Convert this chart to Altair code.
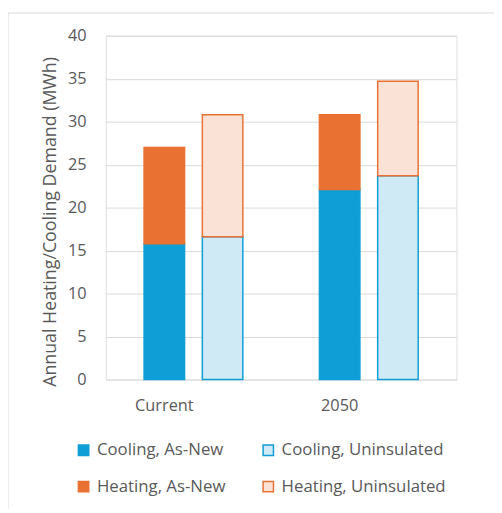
import altair as alt
import pandas as pd

# ---- data ----
scenarios = ["Current", "Current", "2050", "2050"]
insulation = ["As-New", "Uninsulated", "As-New", "Uninsulated"]
cooling = [15.8, 16.6, 22.1, 23.7]
heating = [11.2, 14.2, 8.7, 11.0]
scenario_order = ["Current", "2050"]
insulation_order = ["As-New", "Uninsulated"]
series_names = ["Cooling, As-New", "Heating, As-New",
                "Cooling, Uninsulated", "Heating, Uninsulated"]
y_ticks = [0, 5, 10, 15, 20, 25, 30, 35, 40]
y_title = "Annual Heating/Cooling Demand (MWh)"

fill_colors = ["#0F9ED5", "#E97132", "#CFE9F5", "#FBE2D6"]
stroke_colors = ["#0F9ED5", "#E97132", "#0F9ED5", "#E97132"]

rows = []
for s, ins, c, h in zip(scenarios, insulation, cooling, heating):
    rows.append({"scenario": s, "insulation": ins, "kind": "Cooling",
                 "series": f"Cooling, {ins}", "value": c, "ord": 0})
    rows.append({"scenario": s, "insulation": ins, "kind": "Heating",
                 "series": f"Heating, {ins}", "value": h, "ord": 1})
df = pd.DataFrame(rows)

FONT = "Open Sans"
TXT = "#595959"

legend = alt.Legend(
    title=None, orient="none", legendX=-31, legendY=411, columns=2,
    columnPadding=34, rowPadding=19, symbolType="square", symbolSize=110,
    symbolStrokeWidth=1.5, labelFontSize=17, labelColor=TXT, labelFont=FONT,
    labelOffset=5, labelLimit=300,
)

bars = alt.Chart(df).mark_bar(strokeWidth=1.5).encode(
    x=alt.X("scenario:N", sort=scenario_order,
            scale=alt.Scale(paddingInner=0, paddingOuter=0),
            axis=alt.Axis(title=None, labelOffset=-29.5, ticks=False, domain=False,
                          labelFontSize=16.5, labelColor=TXT, labelFont=FONT,
                          labelPadding=18, labelAngle=0)),
    xOffset=alt.XOffset("insulation:N", sort=insulation_order,
                        scale=alt.Scale(paddingInner=0.305, paddingOuter=0.657)),
    y=alt.Y("value:Q", stack="zero",
            scale=alt.Scale(domain=[0, 40], nice=False),
            axis=alt.Axis(title=y_title, values=y_ticks, ticks=False, domain=False,
                          labelFontSize=16.5, labelColor=TXT, labelFont=FONT,
                          labelPadding=20, gridColor="#D9D9D9", gridWidth=1,
                          titleFontSize=18, titleColor=TXT, titleFont=FONT,
                          titleFontWeight="normal", titleX=-56, titleY=188,
                          titleAngle=-90, titleAlign="center", titleBaseline="middle")),
    fill=alt.Fill("series:N", scale=alt.Scale(domain=series_names, range=fill_colors),
                  legend=legend),
    stroke=alt.Stroke("series:N", scale=alt.Scale(domain=series_names, range=stroke_colors),
                      legend=legend),
    order=alt.Order("ord:Q"),
)

border_left = alt.Chart().mark_rule(color="#D9D9D9", strokeWidth=1).encode(
    x=alt.value(-99), y=alt.value(-23), y2=alt.value(700))
border_top = alt.Chart().mark_rule(color="#D9D9D9", strokeWidth=1).encode(
    x=alt.value(-99), x2=alt.value(700), y=alt.value(-23))

chart = alt.layer(border_left, border_top, bars).properties(
    width=355, height=348,
    autosize=alt.AutoSizeParams(type="none"),
    padding={"left": 99, "top": 25, "right": 38, "bottom": 128},
).configure_view(stroke=None).configure(background="white")

chart.save("out.html", embed_options={"renderer": "svg", "actions": False})
